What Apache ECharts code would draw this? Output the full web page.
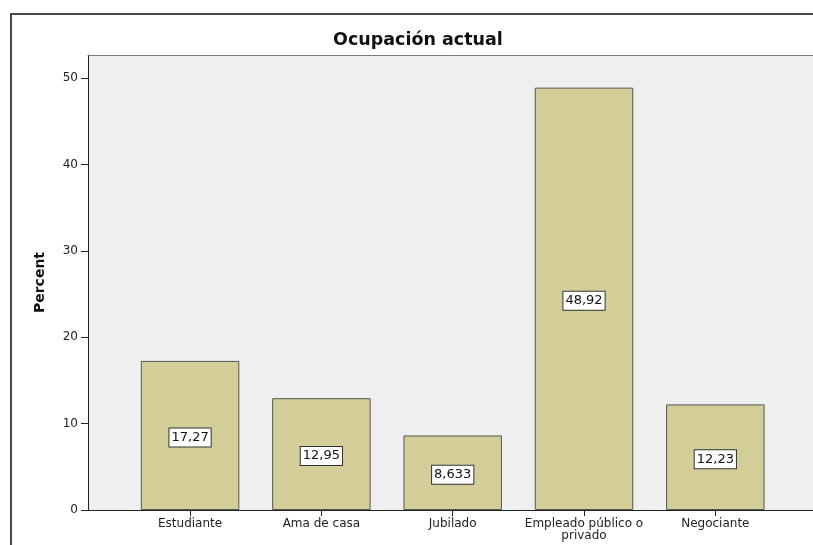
<!DOCTYPE html>
<html>
<head>
<meta charset="utf-8">
<script src="https://cdn.jsdelivr.net/npm/echarts@6/dist/echarts.min.js"></script>
<style>
  html, body { margin: 0; padding: 0; background: #fff; }
  #chart { width: 813px; height: 545px; }
</style>
</head>
<body>
<div id="chart"></div>
<script>
// datos del gráfico
const categories = ['Estudiante', 'Ama de casa', 'Jubilado', 'Empleado público o\nprivado', 'Negociante'];
const percentValues = [17.27, 12.95, 8.633, 48.92, 12.23];
const yTicks = [0, 10, 20, 30, 40, 50];

const FONT = '"DejaVu Sans", "Liberation Sans", sans-serif';

const chart = echarts.init(document.getElementById('chart'));

const option = {
    animation: false,
    backgroundColor: '#fff',
    title: {
        text: 'Ocupación actual',
        left: 328,
        top: 26,
        textStyle: { fontFamily: FONT, fontSize: 17.5, fontWeight: 'bold', color: '#111' }
    },
    // marco exterior
    graphic: [{
        type: 'rect',
        shape: { x: 11, y: 14, width: 900, height: 700 },
        style: { fill: 'none', stroke: '#111', lineWidth: 1.5 },
        silent: true
    }],
    grid: [
        // área de fondo gris con eje Y (se sale por la derecha)
        { left: 88, width: 740, top: 55, bottom: 35, show: true, outerBoundsMode: 'none',
          backgroundColor: '#efefef', borderWidth: 0 },
        // barras
        { left: 124.4, right: 32, top: 55, bottom: 35, outerBoundsMode: 'none' }
    ],
    xAxis: [
        { gridIndex: 0, type: 'value', min: 0, max: 1,
          axisLine: { show: true, lineStyle: { color: '#222', width: 1 } },
          axisTick: { show: false }, axisLabel: { show: false }, splitLine: { show: false } },
        { gridIndex: 0, type: 'value', min: 0, max: 1, position: 'top',
          axisLine: { show: true, lineStyle: { color: '#7a7a7a', width: 1 } },
          axisTick: { show: false }, axisLabel: { show: false }, splitLine: { show: false } },
        { gridIndex: 1, type: 'category', data: categories,
          axisLine: { show: false },
          axisTick: { show: true, alignWithLabel: true, length: 6, lineStyle: { color: '#222' } },
          axisLabel: { margin: 8, fontFamily: FONT, fontSize: 12, color: '#222', lineHeight: 12, interval: 0 },
          splitLine: { show: false } }
    ],
    yAxis: [
        { gridIndex: 0, type: 'value', min: 0, max: 52.7,
          name: 'Percent', nameLocation: 'middle', nameGap: 41, nameRotate: 90,
          nameTextStyle: { fontFamily: FONT, fontSize: 14, fontWeight: 'bold', color: '#111' },
          axisLine: { show: true, lineStyle: { color: '#222', width: 1 } },
          axisTick: { show: true, length: 7, customValues: yTicks, lineStyle: { color: '#222' } },
          axisLabel: { margin: 10, customValues: yTicks, fontFamily: FONT, fontSize: 12, color: '#222' },
          splitLine: { show: false } },
        { gridIndex: 1, type: 'value', min: 0, max: 52.7, show: false }
    ],
    series: [{
        type: 'bar',
        xAxisIndex: 2,
        yAxisIndex: 1,
        data: percentValues,
        barWidth: '75%',
        itemStyle: { color: '#d3ce97', borderColor: '#555', borderWidth: 1 },
        label: {
            show: true,
            position: 'inside',
            offset: [0, 2],
            formatter: p => String(p.value).replace('.', ','),
            fontFamily: FONT,
            fontSize: 13,
            color: '#111',
            backgroundColor: '#fff',
            borderColor: '#333',
            borderWidth: 1,
            padding: [3, 2, 2, 2]
        }
    }]
};

chart.setOption(option);
</script>
</body>
</html>
